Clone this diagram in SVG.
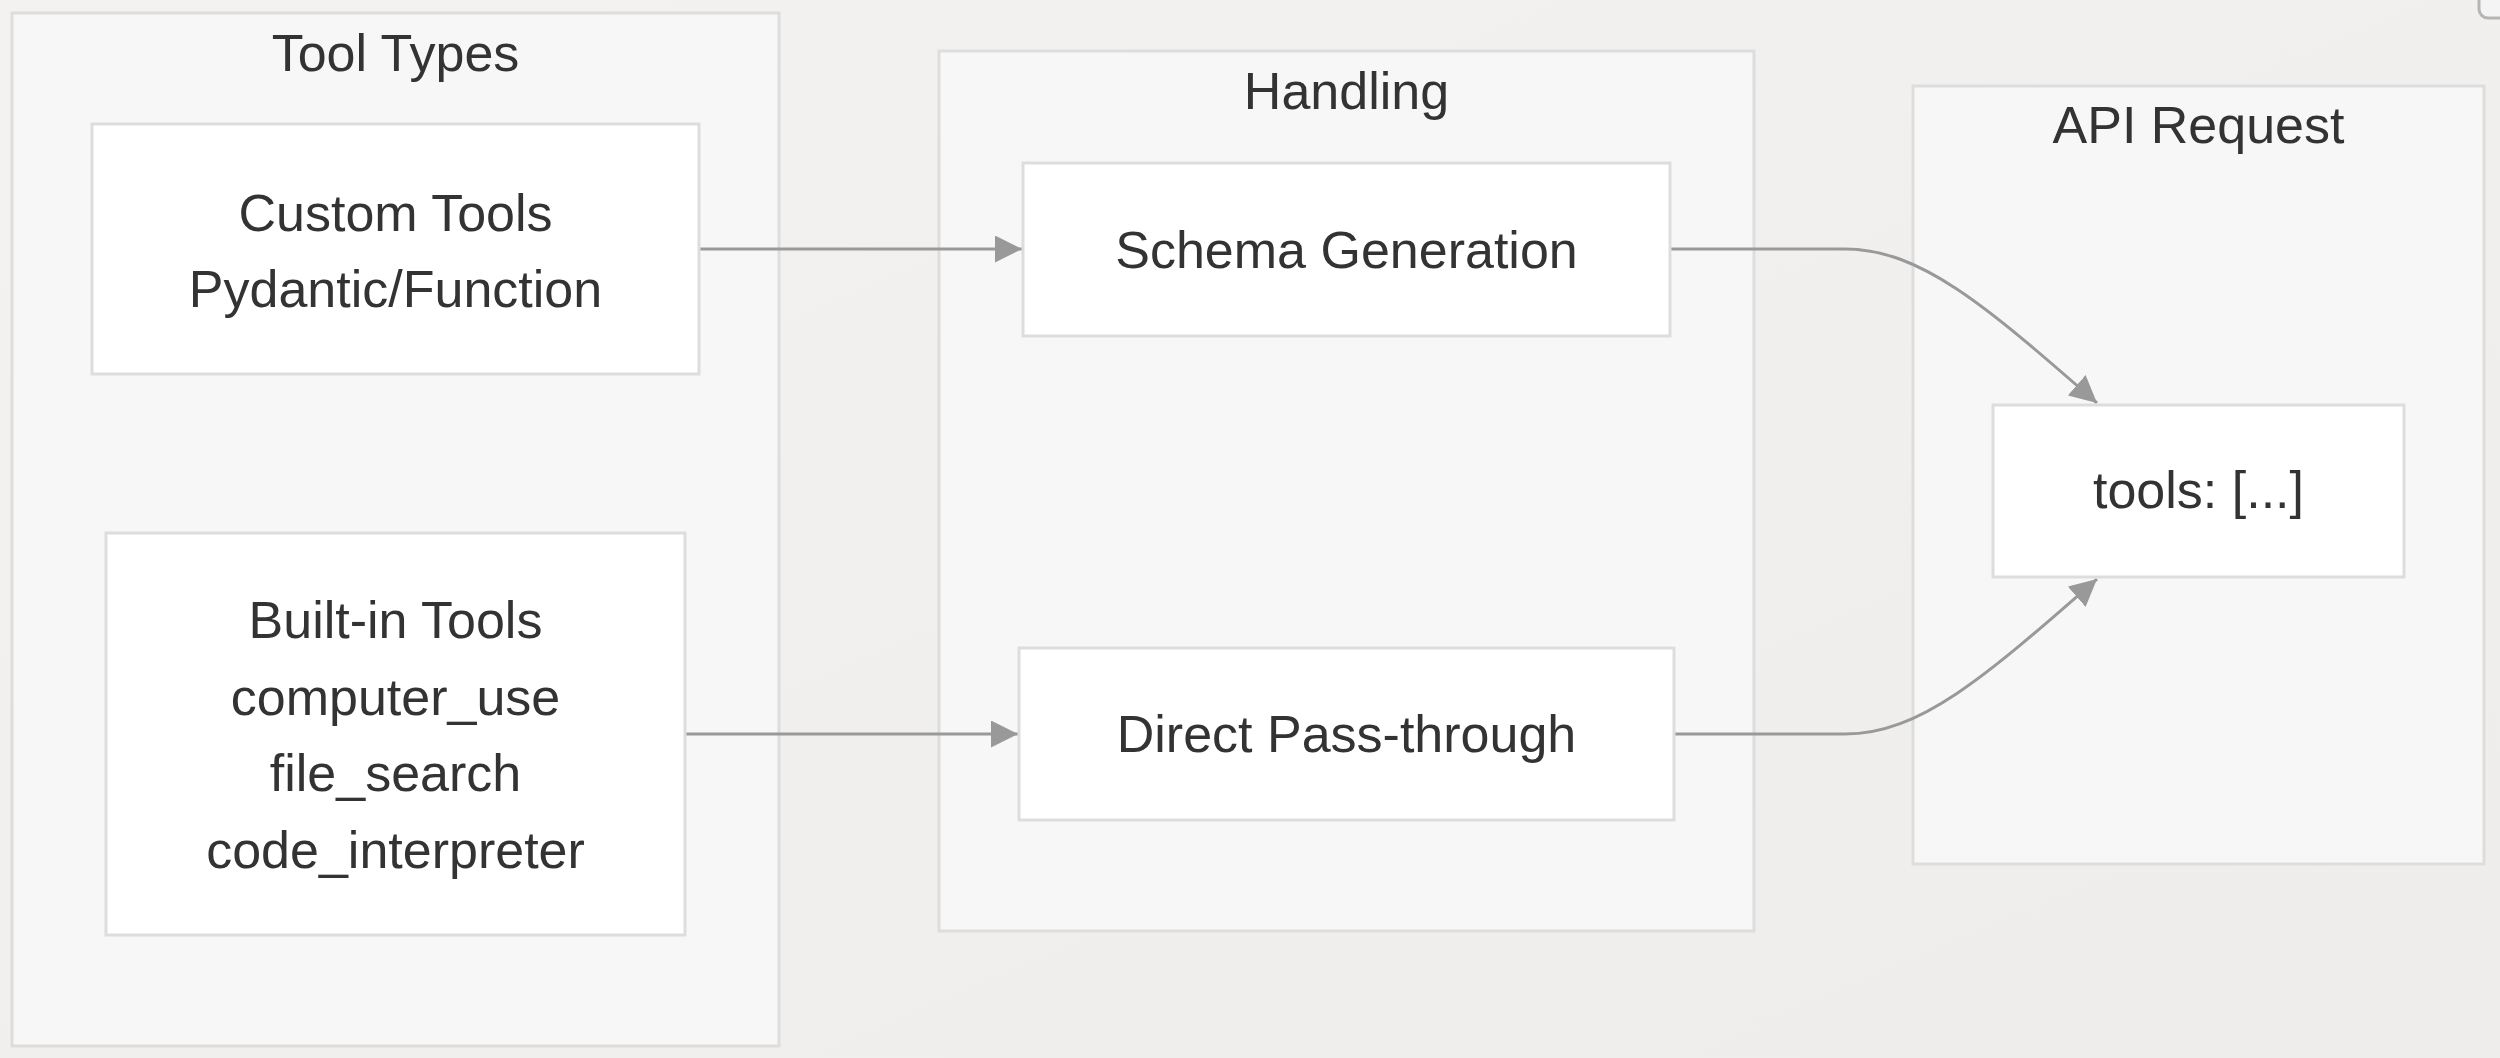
<svg xmlns="http://www.w3.org/2000/svg" width="2500" height="1058" viewBox="0 0 2500 1058">
<defs>
<linearGradient id="bg" x1="0" y1="0" x2="1" y2="1">
<stop offset="0" stop-color="#f3f2f1"/>
<stop offset="1" stop-color="#eeedeb"/>
</linearGradient>
<marker id="arrow" viewBox="0 0 10 10" refX="10" refY="5" markerWidth="27" markerHeight="27" markerUnits="userSpaceOnUse" orient="auto">
<path d="M0,0 L10,5 L0,10 z" fill="#999"/>
</marker>
<style>
.cluster{fill:#f7f7f7;stroke:#dddddd;stroke-width:3}
.node{fill:#ffffff;stroke:#dddddd;stroke-width:3}
.label{font-family:"Liberation Sans",Arial,sans-serif;font-size:52px;fill:#333333;text-anchor:middle}
.edge{fill:none;stroke:#999999;stroke-width:3}
</style>
</defs>
<rect width="2500" height="1058" fill="url(#bg)"/>
<rect x="2479" y="-20" width="40" height="38" rx="9" fill="#f4f4f4" stroke="#b5b5b5" stroke-width="3"/>
<g id="cluster-tool-types">
<rect class="cluster" x="12" y="13" width="767" height="1033"/>
<text class="label" x="395.5" y="71">Tool Types</text>
</g>
<g id="cluster-handling">
<rect class="cluster" x="939" y="51" width="815" height="880"/>
<text class="label" x="1346.5" y="109">Handling</text>
</g>
<g id="cluster-api-request">
<rect class="cluster" x="1913" y="86" width="571" height="778"/>
<text class="label" x="2198.5" y="143">API Request</text>
</g>
<g id="connectors">
<path class="edge" d="M699,249 L1022,249" marker-end="url(#arrow)"/>
<path class="edge" d="M685,734 L1018,734" marker-end="url(#arrow)"/>
<path class="edge" d="M1671,249 L1845,249 C1920,249 1985,305 2097,403" marker-end="url(#arrow)"/>
<path class="edge" d="M1674,734 L1845,734 C1920,734 1985,677 2097,579" marker-end="url(#arrow)"/>
</g>
<g id="node-custom-tools">
<rect class="node" x="92" y="124" width="607" height="250"/>
<text class="label" x="395.5" y="231">Custom Tools</text>
<text class="label" x="395.5" y="307">Pydantic/Function</text>
</g>
<g id="node-built-in-tools">
<rect class="node" x="106" y="533" width="579" height="402"/>
<text class="label" x="395.5" y="638">Built-in Tools</text>
<text class="label" x="395.5" y="714.5">computer_use</text>
<text class="label" x="395.5" y="791">file_search</text>
<text class="label" x="395.5" y="867.5">code_interpreter</text>
</g>
<g id="node-schema-generation">
<rect class="node" x="1023" y="163" width="647" height="173"/>
<text class="label" x="1346.5" y="267.5">Schema Generation</text>
</g>
<g id="node-direct-pass-through">
<rect class="node" x="1019" y="648" width="655" height="172"/>
<text class="label" x="1346.5" y="752">Direct Pass-through</text>
</g>
<g id="node-tools">
<rect class="node" x="1993" y="405" width="411" height="172"/>
<text class="label" x="2198.5" y="508">tools: [...]</text>
</g>
</svg>
